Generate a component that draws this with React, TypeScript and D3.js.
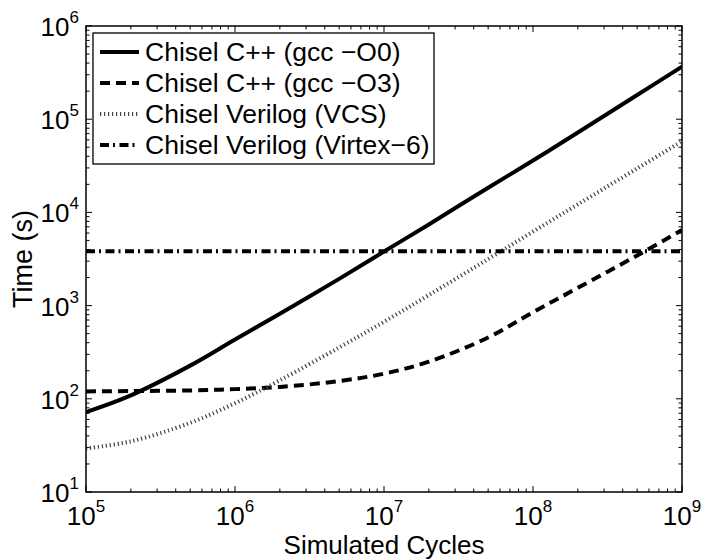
import React from "react";
import * as d3 from "d3";

const cycles = [1e5, 2e5, 5e5, 1e6, 2e6, 5e6, 1e7, 2e7, 5e7, 1e8, 2e8, 5e8, 1e9];
const cppO0 = [72, 109, 227, 433, 818, 1936, 3800, 7430, 18400, 36000, 72000, 182000, 366000];
const cppO3 = [120, 121, 123, 127, 134, 155, 186, 250, 455, 850, 1550, 3450, 6470];
const verilogVCS = [29.4, 34.9, 55.2, 89.7, 158, 355, 671, 1297, 3155, 6220, 12200, 29600, 58000];
const virtexCycles = [1e5, 1e9];
const virtexTime = [3840, 3840];

const seriesNames = [
  "Chisel C++ (gcc \u2212O0)",
  "Chisel C++ (gcc \u2212O3)",
  "Chisel Verilog (VCS)",
  "Chisel Verilog (Virtex\u22126)",
];
const xTickExps = [5, 6, 7, 8, 9];
const yTickExps = [1, 2, 3, 4, 5, 6];

const W = 703, H = 560;
const L = 86, R = 682, T = 26, B = 492;
const FONT = "'Liberation Sans', Arial, Helvetica, sans-serif";

const styles = [
  { width: 4, dash: "none", color: "#000" },
  { width: 4, dash: "10 6", color: "#000" },
  { width: 4, dash: "1.2 2.8", color: "#444" },
  { width: 4, dash: "9 4 2 4.5", color: "#000" },
];

export default function App() {
  const x = d3.scaleLog().domain([1e5, 1e9]).range([L, R]);
  const y = d3.scaleLog().domain([10, 1e6]).range([B, T]);
  const line = d3
    .line<[number, number]>()
    .x((d) => x(d[0]))
    .y((d) => y(d[1]))
    .curve(d3.curveCatmullRom.alpha(0.5));

  const series: [number, number][][] = [
    cycles.map((c, i) => [c, cppO0[i]]),
    cycles.map((c, i) => [c, cppO3[i]]),
    cycles.map((c, i) => [c, verilogVCS[i]]),
    virtexCycles.map((c, i) => [c, virtexTime[i]]),
  ];

  const xMinor: number[] = [];
  for (let e = 5; e < 9; e++) for (let k = 2; k <= 9; k++) xMinor.push(k * Math.pow(10, e));
  const yMinor: number[] = [];
  for (let e = 1; e < 6; e++) for (let k = 2; k <= 9; k++) yMinor.push(k * Math.pow(10, e));

  const major = 6, minor = 3.5;
  const legendRows = [52, 83, 114, 145];

  return (
    <svg
      width={W}
      height={H}
      style={{ position: "absolute", left: 0, top: 0, background: "#fff" }}
      fontFamily={FONT}
    >
      <rect x={0} y={0} width={W} height={H} fill="#fff" />
      <defs>
        <clipPath id="plotclip">
          <rect x={L} y={T} width={R - L} height={B - T} />
        </clipPath>
      </defs>
      <g clipPath="url(#plotclip)" fill="none">
        {series.map((s, i) => (
          <path
            key={i}
            d={line(s) || ""}
            stroke={styles[i].color}
            strokeWidth={styles[i].width}
            strokeDasharray={styles[i].dash}
            strokeLinecap="butt"
          />
        ))}
      </g>
      <g stroke="#000" strokeWidth={1}>
        {xTickExps.map((e) => {
          const px = x(Math.pow(10, e));
          return (
            <g key={"xm" + e}>
              <line x1={px} x2={px} y1={B} y2={B - major} />
              <line x1={px} x2={px} y1={T} y2={T + major} />
            </g>
          );
        })}
        {xMinor.map((v, i) => {
          const px = x(v);
          return (
            <g key={"xn" + i}>
              <line x1={px} x2={px} y1={B} y2={B - minor} />
              <line x1={px} x2={px} y1={T} y2={T + minor} />
            </g>
          );
        })}
        {yTickExps.map((e) => {
          const py = y(Math.pow(10, e));
          return (
            <g key={"ym" + e}>
              <line x1={L} x2={L + major} y1={py} y2={py} />
              <line x1={R} x2={R - major} y1={py} y2={py} />
            </g>
          );
        })}
        {yMinor.map((v, i) => {
          const py = y(v);
          return (
            <g key={"yn" + i}>
              <line x1={L} x2={L + minor} y1={py} y2={py} />
              <line x1={R} x2={R - minor} y1={py} y2={py} />
            </g>
          );
        })}
      </g>
      <rect x={L} y={T} width={R - L} height={B - T} fill="none" stroke="#000" strokeWidth={1.5} />
      <g fill="#000">
        {xTickExps.map((e) => (
          <text key={"xl" + e} x={x(Math.pow(10, e))} y={525} textAnchor="middle" fontSize={26}>
            10<tspan fontSize={17} dy={-13}>{e}</tspan>
          </text>
        ))}
        {yTickExps.map((e) => (
          <text key={"yl" + e} x={79} y={y(Math.pow(10, e)) + 10} textAnchor="end" fontSize={26}>
            10<tspan fontSize={17} dy={-13}>{e}</tspan>
          </text>
        ))}
      </g>
      <text x={(L + R) / 2} y={554} textAnchor="middle" fontSize={26}>
        Simulated Cycles
      </text>
      <text
        transform={`translate(32, ${(T + B) / 2}) rotate(-90)`}
        textAnchor="middle"
        fontSize={27}
      >
        Time (s)
      </text>
      <rect x={93} y={33} width={341} height={131} fill="#fff" stroke="#000" strokeWidth={1.3} />
      {seriesNames.map((name, i) => (
        <g key={"lg" + i}>
          <line
            x1={100}
            x2={139}
            y1={legendRows[i]}
            y2={legendRows[i]}
            stroke={styles[i].color}
            strokeWidth={styles[i].width}
            strokeDasharray={styles[i].dash}
          />
          <text x={145} y={legendRows[i] + 9} fontSize={26.5}>
            {name}
          </text>
        </g>
      ))}
    </svg>
  );
}
